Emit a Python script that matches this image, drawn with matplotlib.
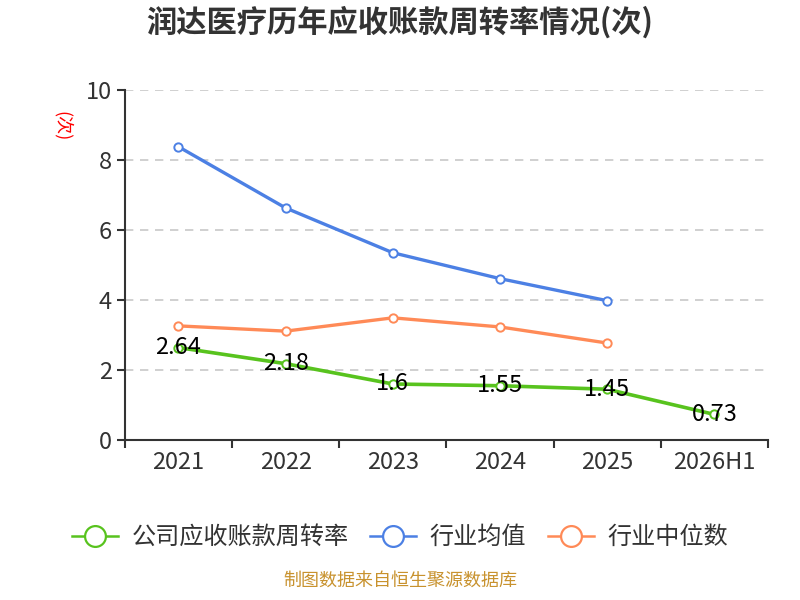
import matplotlib.pyplot as plt
from matplotlib.lines import Line2D

plt.rcParams['font.family'] = ['Noto Sans CJK SC', 'DejaVu Sans']

years = ['2021', '2022', '2023', '2024', '2025', '2026H1']
company = [2.64, 2.18, 1.6, 1.55, 1.45, 0.73]
industry_avg = [8.38, 6.63, 5.35, 4.61, 3.98]
industry_median = [3.26, 3.11, 3.49, 3.23, 2.77]

green = '#58C31E'
blue = '#4C80E4'
orange = '#FF8A57'

fig = plt.figure(figsize=(8, 6), dpi=100)
ax = fig.add_axes([0.156, 0.2667, 0.804, 0.5833])

x = list(range(len(years)))
ax.plot(x[:len(industry_avg)], industry_avg, color=blue, lw=2.4, marker='o', ms=6,
        mfc='white', mec=blue, mew=1.4, zorder=3)
ax.plot(x[:len(industry_median)], industry_median, color=orange, lw=2.4, marker='o', ms=6,
        mfc='white', mec=orange, mew=1.4, zorder=3)
ax.plot(x, company, color=green, lw=2.6, marker='o', ms=6,
        mfc='white', mec=green, mew=1.4, zorder=3)

for xi, v in zip(x, company):
    ax.text(xi, v, f'{v:g}', ha='center', va='center', fontsize=17, color='black', zorder=5)

ax.set_xlim(-0.5, len(years) - 0.5)
ax.set_ylim(0, 10)
ax.set_yticks([0, 2, 4, 6, 8, 10])
ax.set_xticks([i - 0.5 for i in range(len(years) + 1)])
ax.set_xticklabels([])
ax.set_xticks(x, minor=True)
ax.set_xticklabels(years, minor=True)
ax.tick_params(axis='x', which='major', length=6, width=1.5, color='#333333')
ax.tick_params(axis='x', which='minor', length=0, pad=8, labelsize=17, labelcolor='#333333')
ax.tick_params(axis='y', length=6, width=1.5, color='#333333', labelsize=17, labelcolor='#333333')

ax.grid(axis='y', ls=(0, (5, 4)), color='#c8c8c8', lw=1.2)
ax.set_axisbelow(True)
for s in ['top', 'right']:
    ax.spines[s].set_visible(False)
ax.spines['left'].set_color('#333333')
ax.spines['bottom'].set_color('#333333')
ax.spines['left'].set_linewidth(1.5)
ax.spines['bottom'].set_linewidth(1.5)

fig.text(0.5, 0.962, '润达医疗历年应收账款周转率情况(次)', ha='center', va='center',
         fontsize=21.8, fontweight='bold', color='#333333')
fig.text(0.078, 0.79, '(次)', ha='center', va='center', rotation=-90, fontsize=13, color='red')

handles = [Line2D([], [], color=c, lw=1.8, marker='o', ms=15, mfc='white', mec=c, mew=1.6)
           for c in [green, blue, orange]]
fig.legend(handles, ['公司应收账款周转率', '行业均值', '行业中位数'], loc='center',
           bbox_to_anchor=(0.5, 0.105), ncol=3, frameon=False, fontsize=17.4,
           handlelength=1.9, handletextpad=0.55, columnspacing=0.9, labelcolor='#333333')

fig.text(0.5, 0.018, '制图数据来自恒生聚源数据库', ha='center', va='bottom',
         fontsize=13, color='#C8922E')

fig.savefig('out.png')
